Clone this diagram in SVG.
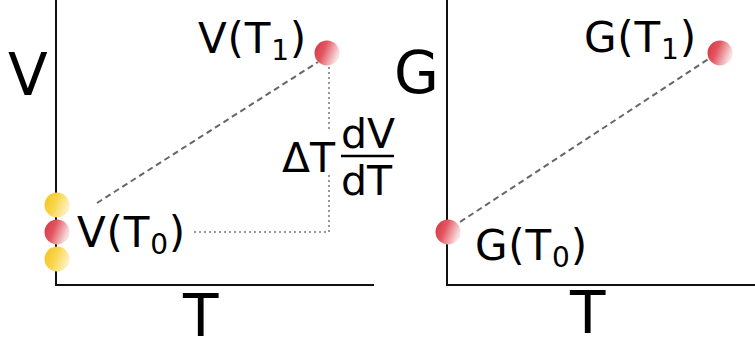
<svg xmlns="http://www.w3.org/2000/svg" width="755" height="345" viewBox="0 0 755 345">
<style>
text{font-family:"DejaVu Sans","Verdana",sans-serif;fill:#000}
.big{font-size:58px}
.lab{font-size:42px;letter-spacing:0.8px}
.frac{font-size:41px}
.sub{font-size:28px}
.axis{stroke:#111;stroke-width:2;fill:none}
.dash{stroke:#666;stroke-width:2;stroke-dasharray:6 4;fill:none}
.dot{stroke:#999;stroke-width:2;stroke-dasharray:2 3;fill:none}
</style>
<defs>
<linearGradient id="red" x1="0" y1="0" x2="1" y2="0.4">
<stop offset="0" stop-color="#d3323d"/>
<stop offset="0.45" stop-color="#e25560"/>
<stop offset="1" stop-color="#f8dede"/>
</linearGradient>
<linearGradient id="yel" x1="0" y1="0" x2="1" y2="0.4">
<stop offset="0" stop-color="#f3c21a"/>
<stop offset="0.5" stop-color="#f8d54a"/>
<stop offset="1" stop-color="#fdf0b8"/>
</linearGradient>
</defs>
<g id="axes">
<path class="axis" d="M56 0 V285 H374"/>
<path class="axis" d="M447 0 V285 H755"/>
<text class="big" x="8" y="95">V</text>
<text class="big" x="183" y="336">T</text>
<text class="big" x="394" y="93">G</text>
<text class="big" x="570" y="333">T</text>
</g>
<g id="connectors">
<path class="dash" d="M97 203 L318 62"/>
<path class="dash" d="M460 222 L710 58"/>
<path class="dot" d="M329 67 V130 M329 175 V232 H193"/>
</g>
<g id="v-t0-lower">
<circle cx="57" cy="259" r="12.5" fill="url(#yel)"/>
</g>
<g id="v-t0-upper">
<circle cx="57" cy="205" r="12.5" fill="url(#yel)"/>
</g>
<g id="v-t0">
<circle cx="57" cy="232" r="12.5" fill="url(#red)"/>
<text class="lab" x="77" y="247">V(T<tspan class="sub" dy="7">0</tspan><tspan dy="-7">)</tspan></text>
</g>
<g id="v-t1">
<circle cx="327" cy="53" r="12.5" fill="url(#red)"/>
<text class="lab" x="198" y="53">V(T<tspan class="sub" dy="7">1</tspan><tspan dy="-7">)</tspan></text>
</g>
<g id="delta">
<text class="frac" x="282" y="172">ΔT</text>
<text class="frac" x="341" y="148">dV</text>
<line x1="341" y1="156" x2="394" y2="156" stroke="#000" stroke-width="2.5"/>
<text class="frac" x="341" y="195">dT</text>
</g>
<g id="g-t0">
<circle cx="448" cy="232" r="12.5" fill="url(#red)"/>
<text class="lab" x="475" y="260">G(T<tspan class="sub" dy="7">0</tspan><tspan dy="-7">)</tspan></text>
</g>
<g id="g-t1">
<circle cx="720" cy="53" r="12.5" fill="url(#red)"/>
<text class="lab" x="584" y="52">G(T<tspan class="sub" dy="7">1</tspan><tspan dy="-7">)</tspan></text>
</g>
</svg>
